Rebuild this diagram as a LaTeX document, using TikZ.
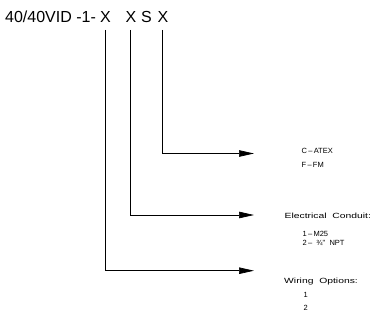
\documentclass[tikz,border=0pt]{standalone}
\usepackage{fontspec}
\setmainfont{Liberation Sans}
\usetikzlibrary{arrows.meta}
\begin{document}
\begin{tikzpicture}[x=1pt,y=-1pt,
  title/.style={inner sep=0pt,font=\fontsize{16}{18}\selectfont},
  small/.style={inner sep=0pt,anchor=west,font=\fontsize{7.5}{8}\selectfont},
  conn/.style={line width=0.7pt,-{Triangle[length=15pt,width=6.5pt]}}]
\useasboundingbox (0,0) rectangle (374,321);
\node[title,anchor=west] (code) at (5,17) {40/40VID -1-};
\node[title] (x1) at (105.5,17) {X};
\node[title] (x2) at (131,17) {X};
\node[title] (s) at (146.5,17) {S};
\node[title] (x3) at (163,17) {X};
\coordinate (s1) at (105.7,30);
\coordinate (s2) at (130.7,30);
\coordinate (s3) at (162.7,30);
\coordinate (t1) at (254,270.7);
\coordinate (t2) at (254,215);
\coordinate (t3) at (254,153.5);
\draw[conn] (s3) |- (t3);
\draw[conn] (s2) |- (t2);
\draw[conn] (s1) |- (t1);
\node[small] (a1) at (301.5,151) {C\,--\,ATEX};
\node[small] (a2) at (301.5,165) {F\,--\,FM};
\node[small] (b0) at (284.5,216) {\scalebox{1.38}[1]{Electrical\ \ Conduit:}};
\node[small] (b1) at (302.5,233.5) {1\,--\,M25};
\node[small] (b2) at (302.5,243) {2\,--\ \ ¾\textquotedbl\ \ NPT};
\node[small] (c0) at (284,282) {\scalebox{1.38}[1]{Wiring\ \ Options:}};
\node[small] (c1) at (303.5,295) {1};
\node[small] (c2) at (303.5,308) {2};
\end{tikzpicture}
\end{document}
